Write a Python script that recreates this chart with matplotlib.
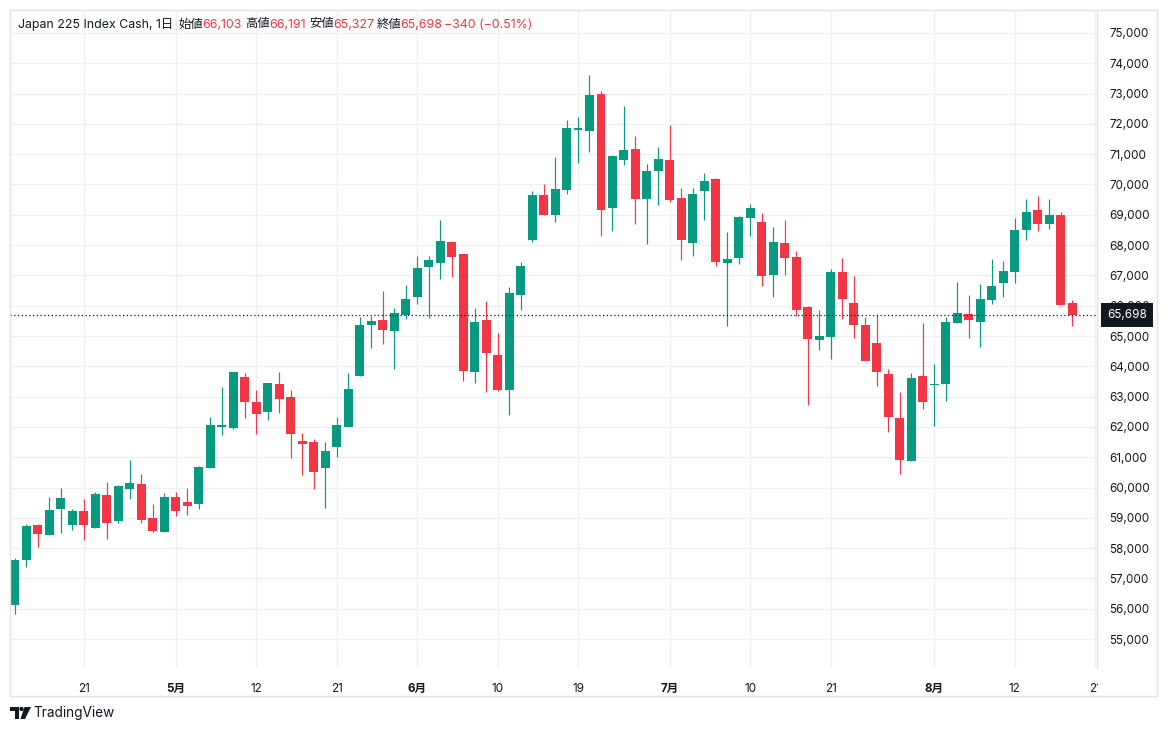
import matplotlib
matplotlib.use("Agg")
import matplotlib.pyplot as plt
import matplotlib.patches as patches
import matplotlib.transforms as mtransforms
import pandas as pd

plt.rcParams['font.family'] = ['Inter', 'Noto Sans CJK JP', 'DejaVu Sans']

# daily candles, Apr 13 - Aug 19 (weekdays)
dates = pd.bdate_range("2026-04-13", "2026-08-19")

opens = [56117, 57605, 58752, 58432, 59292, 58763, 59215, 58664, 59744, 58896,
         59954, 60108, 58984, 58532, 59678, 59513, 59470, 60632, 62013, 61980,
         63646, 62824, 62506, 63416, 62989, 61542, 61509, 60632, 61323, 62013,
         63690, 65367, 65520, 65181, 65709, 66282, 67262, 67405, 68088, 67692,
         63804, 65544, 64388, 63209, 66348, 68165, 69641, 68991, 69817, 71800,
         71780, 72989, 69209, 70824, 71176, 69506, 70462, 70813, 69560, 68055,
         69769, 70187, 67396, 67560, 68879, 68769, 67000, 68083, 67621, 65968,
         64856, 64955, 67125, 66100, 65373, 64778, 63754, 62300, 60890, 63688,
         63368, 63401, 65417, 65737, 65470, 66199, 66762, 67127, 68486, 69171,
         68685, 69006, 66103]
highs = [57660, 58785, 58785, 59678, 59976, 59281, 59612, 59844, 60174, 60075,
         60902, 60439, 59447, 59810, 59844, 59976, 60720, 62331, 63317, 63811,
         63778, 63219, 63449, 63811, 63219, 61805, 61608, 61509, 62331, 63778,
         65619, 65652, 66474, 65908, 66668, 67626, 67626, 68815, 68120, 67720,
         65908, 66139, 65115, 66601, 67427, 69773, 70004, 70897, 72119, 72218,
         73615, 73077, 70978, 72593, 71604, 70681, 71242, 71967, 69890, 69890,
         70385, 70220, 68440, 68967, 69363, 69066, 68604, 68843, 67819, 65990,
         65869, 67224, 67587, 66993, 65638, 65682, 63919, 63159, 63787, 65439,
         64084, 65638, 66794, 66365, 66718, 67547, 67481, 68895, 69536, 69635,
         69536, 69105, 66191]
lows = [55841, 57374, 58036, 58432, 58498, 58598, 58267, 58664, 58300, 58829,
        59623, 58829, 58532, 58532, 59061, 59094, 59280, 60632, 61717, 61947,
        62309, 61750, 62243, 62474, 60961, 60402, 59942, 59317, 60994, 62013,
        63690, 64611, 64742, 63903, 65555, 66051, 65588, 66877, 66943, 63507,
        63441, 63143, 63176, 62383, 65853, 68099, 68991, 68760, 69685, 70709,
        71088, 68286, 68451, 70659, 68681, 68022, 69308, 69407, 67495, 67626,
        68813, 67297, 65319, 67363, 68286, 66637, 66275, 67026, 65649, 62707,
        64525, 64228, 65550, 64922, 64162, 63335, 61837, 60460, 60890, 62575,
        62046, 62840, 65417, 64922, 64650, 66055, 66298, 66762, 68155, 68453,
        68519, 66038, 65327]
closes = [57605, 58719, 58465, 59248, 59645, 59215, 58763, 59777, 58829, 60042,
          60141, 58929, 58565, 59678, 59226, 59392, 60680, 62068, 62068, 63811,
          62835, 62441, 63449, 62934, 61750, 61421, 60501, 61213, 62068, 63252,
          65356, 65488, 65202, 65775, 66205, 67229, 67493, 68121, 67604, 63837,
          65478, 64432, 63231, 66403, 67295, 69641, 68991, 69839, 71855, 71855,
          72956, 69143, 70945, 71143, 69506, 70451, 70846, 69473, 68154, 69692,
          70121, 67429, 67549, 68934, 69231, 66967, 68110, 67565, 65847, 64889,
          65010, 67125, 66210, 65351, 64184, 63798, 62311, 60923, 63622, 62807,
          63400, 65472, 65770, 65516, 66221, 66652, 67149, 68508, 69105, 68685,
          69006, 66038, 65698]

# x axis labels (dates that get a label) and their text
tick_dates = ["2026-04-21", "2026-05-01", "2026-05-12", "2026-05-21", "2026-06-01",
              "2026-06-10", "2026-06-19", "2026-07-01", "2026-07-10", "2026-07-21",
              "2026-08-03", "2026-08-12", "2026-08-21"]
tick_labels = ["21", "5月", "12", "21", "6月", "10", "19", "7月", "10", "21",
               "8月", "12", "21"]
price_ticks = list(range(55000, 76000, 1000))

UP = "#089981"
DOWN = "#F23645"
TXT = "#131722"
GRID = "#EFF0F2"
BORDER = "#E0E3EB"

W, H = 1167, 731
fig = plt.figure(figsize=(W / 100, H / 100), dpi=100)
fig.patch.set_facecolor("white")

def fx(x):
    return x / W

def fy(y):
    return 1 - y / H

# plot area in pixels: x 10..1097, y 10..668
ax = fig.add_axes([fx(10), fy(668), fx(1097) - fx(10), fy(10) - fy(668)])

# index positions for trading days (weekdays only, no gaps)
all_days = pd.bdate_range("2026-04-13", "2026-08-31")
pos = {d.strftime("%Y-%m-%d"): i for i, d in enumerate(all_days)}
xs = [pos[d.strftime("%Y-%m-%d")] for d in dates]
tick_pos = [pos[d] for d in tick_dates]

for x, o, h, l, c in zip(xs, opens, highs, lows, closes):
    col = UP if c >= o else DOWN
    ax.vlines(x, l, h, color=col, lw=0.85, zorder=3)
    bottom = min(o, c)
    height = max(abs(c - o), 45)
    ax.bar(x, height, bottom=bottom, width=0.78, color=col, linewidth=0, zorder=4)

last_close = closes[-1]
ax.axhline(last_close, color=TXT, lw=0.9, ls=(0, (1, 2)), zorder=5)

ax.set_xlim(-0.435, 94.17)
ax.set_ylim(54043, 75759)

ax.set_yticks(price_ticks)
ax.set_yticklabels([f"{v:,}" for v in price_ticks])
ax.yaxis.tick_right()
ax.set_xticks(tick_pos)
ax.set_xticklabels(tick_labels)
for lbl, txt in zip(ax.get_xticklabels(), tick_labels):
    if "月" in txt:
        lbl.set_fontweight("bold")
ax.tick_params(axis="y", length=0, pad=9, labelsize=8.4, labelcolor=TXT)
ax.tick_params(axis="x", length=0, pad=11, labelsize=8.4, labelcolor=TXT)
ax.grid(True, color=GRID, lw=1, zorder=0)
ax.set_axisbelow(True)
for s in ax.spines.values():
    s.set_visible(False)

# last price tag on the price scale
tr = mtransforms.blended_transform_factory(ax.transAxes, ax.transData)
ax.text(1.0092, last_close, f"{last_close:,}", transform=tr, ha="left", va="center",
        fontsize=8.4, color="white", clip_on=False, zorder=10,
        bbox=dict(boxstyle="square,pad=0.5", fc=TXT, ec="none"))

# cover the clipped part of the last time label under the price scale
fig.add_artist(patches.Rectangle((fx(1097.5), fy(694)), fx(1156) - fx(1097.5),
                                 fy(669) - fy(694), transform=fig.transFigure,
                                 fc="white", ec="none", zorder=5))
# panel border and price scale border
fig.add_artist(patches.Rectangle((fx(9.5), fy(695.5)), fx(1156.5) - fx(9.5),
                                 fy(9.5) - fy(695.5), transform=fig.transFigure,
                                 fill=False, ec=BORDER, lw=1, zorder=6))
fig.add_artist(plt.Line2D([fx(1097), fx(1097)], [fy(10), fy(668)],
                          transform=fig.transFigure, color=BORDER, lw=1, zorder=6))

# header line
hy = fy(24.5)
hs = 8.9
fig.text(fx(18), hy, "Japan 225 Index Cash, 1日", color=TXT, fontsize=hs, va="center")
for lx, lab, vx, val in [(178.6, "始値", 202.5, f"{opens[-1]:,}"),
                         (245.7, "高値", 269.6, f"{highs[-1]:,}"),
                         (309.0, "安値", 333.0, f"{lows[-1]:,}"),
                         (376.8, "終値", 400.7, f"{closes[-1]:,}")]:
    fig.text(fx(lx), hy, lab, color=TXT, fontsize=hs, va="center")
    fig.text(fx(vx), hy, val, color=DOWN, fontsize=hs, va="center")
chg = closes[-1] - closes[-2]
pct = chg / closes[-2] * 100
fig.text(fx(444), hy, f"{chg:+,}".replace("-", "−") + f" ({pct:+.2f}%)".replace("-", "−"),
         color=DOWN, fontsize=hs, va="center")

# TradingView logo
logo = [
    [(10, 707), (19, 707), (19, 719), (15, 719), (15, 711), (10, 711)],
    [(24.5, 707), (31, 707), (25, 719), (20.5, 719)],
]
for poly in logo:
    fig.add_artist(patches.Polygon([(fx(a), fy(b)) for a, b in poly], closed=True,
                                   transform=fig.transFigure, fc=TXT, ec="none"))
fig.add_artist(patches.Ellipse((fx(21.5), fy(709)), 4.4 / W, 4.4 / H,
                               transform=fig.transFigure, fc=TXT, ec="none"))
fig.text(fx(33.5), fy(713), "TradingView", color=TXT, fontsize=9.8, va="center")

fig.savefig("out.png", dpi=100, facecolor="white")
